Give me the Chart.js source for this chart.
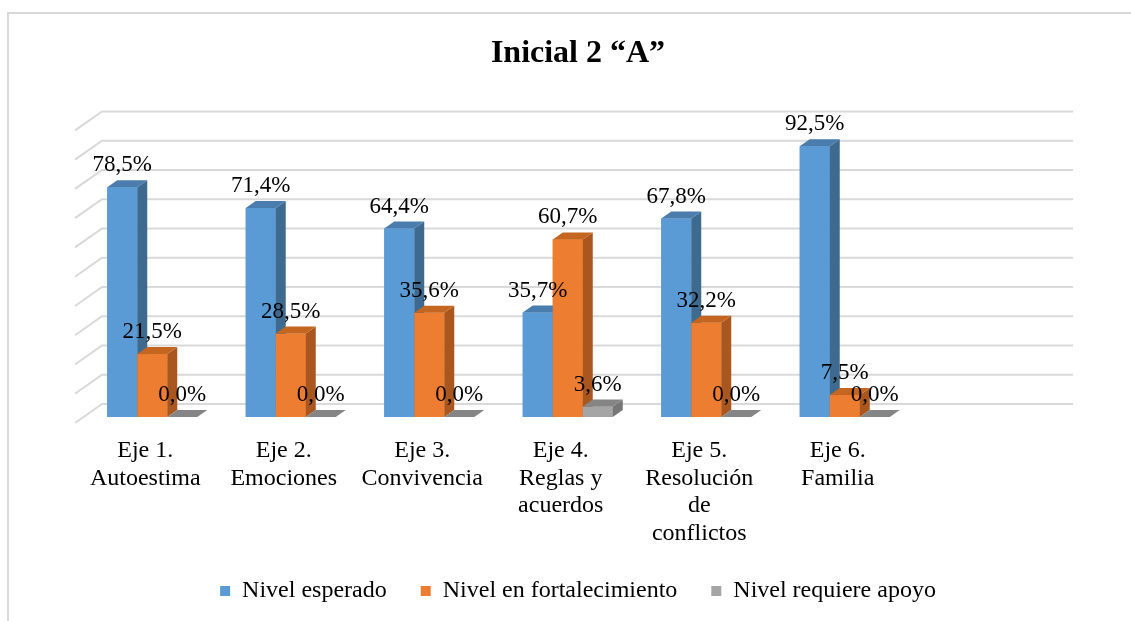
<!DOCTYPE html>
<html>
<head>
<meta charset="utf-8">
<script src="https://cdn.jsdelivr.net/npm/chart.js@4.4.0/dist/chart.umd.min.js"></script>
<style>
  html, body { margin: 0; padding: 0; background: #fff; }
  canvas { display: block; }
</style>
</head>
<body>
<canvas id="chart" width="1131" height="621"></canvas>
<script>
// Data
const categories = [
  ["Eje 1.", "Autoestima"],
  ["Eje 2.", "Emociones"],
  ["Eje 3.", "Convivencia"],
  ["Eje 4.", "Reglas y", "acuerdos"],
  ["Eje 5.", "Resolución", "de", "conflictos"],
  ["Eje 6.", "Familia"]
];
const seriesNames = ["Nivel esperado", "Nivel en fortalecimiento", "Nivel requiere apoyo"];
const esperado = [78.5, 71.4, 64.4, 35.7, 67.8, 92.5];
const fortalecimiento = [21.5, 28.5, 35.6, 60.7, 32.2, 7.5];
const apoyo = [0, 0, 0, 3.6, 0, 0];

const frontColors = ["#5B9BD5", "#ED7D31", "#A5A5A5"];
const sideColors = ["#3E6A90", "#A9561F", "#767676"];
const topColors = ["#4A7DAD", "#C4661F", "#858585"];
const DX = 10, DY = 7;          // bar depth
const WALL_DX = 27, WALL_DY = 19; // floor/wall depth
const FONT = "'Liberation Serif', 'Times New Roman', serif";

const fmt = v => v.toFixed(1).replace(".", ",") + "%";

const frame = {
  id: "frame",
  beforeDraw(chart) {
    const ctx = chart.ctx;
    ctx.save();
    ctx.fillStyle = "#fff";
    ctx.fillRect(0, 0, chart.width, chart.height);
    ctx.strokeStyle = "#d9d9d9";
    ctx.lineWidth = 2;
    ctx.strokeRect(8, 13, 1300, 800);
    ctx.restore();
  }
};

// back wall gridlines with the perspective stubs on the left
const wall = {
  id: "wall",
  beforeDatasetsDraw(chart) {
    const ctx = chart.ctx, area = chart.chartArea, ys = chart.scales.y;
    const backLeft = area.left + 19;
    const backRight = area.right + 159;
    ctx.save();
    ctx.strokeStyle = "#d9d9d9";
    ctx.lineWidth = 2;
    ys.ticks.forEach(t => {
      const yy = ys.getPixelForValue(t.value) - 13;
      ctx.beginPath();
      ctx.moveTo(backLeft - WALL_DX, yy + WALL_DY);
      ctx.lineTo(backLeft, yy);
      ctx.lineTo(backRight, yy);
      ctx.stroke();
    });
    ctx.restore();
  }
};

// redraw each bar as a small box, category by category, then the value labels
const boxes = {
  id: "boxes",
  afterDatasetsDraw(chart) {
    const ctx = chart.ctx;
    const metas = [0, 1, 2].map(d => chart.getDatasetMeta(d));
    ctx.save();
    categories.forEach((c, i) => {
      metas.forEach((meta, d) => {
        const b = meta.data[i].getProps(["x", "y", "base", "width"], true);
        const l = b.x - b.width / 2, r = b.x + b.width / 2;
        if (b.base - b.y > 0) {
          ctx.fillStyle = frontColors[d];
          ctx.fillRect(l, b.y, b.width, b.base - b.y);
        }
        ctx.fillStyle = sideColors[d];
        ctx.beginPath();
        ctx.moveTo(r, b.y);
        ctx.lineTo(r + DX, b.y - DY);
        ctx.lineTo(r + DX, b.base - DY);
        ctx.lineTo(r, b.base);
        ctx.closePath();
        ctx.fill();
        ctx.fillStyle = topColors[d];
        ctx.beginPath();
        ctx.moveTo(l, b.y);
        ctx.lineTo(l + DX, b.y - DY);
        ctx.lineTo(r + DX, b.y - DY);
        ctx.lineTo(r, b.y);
        ctx.closePath();
        ctx.fill();
      });
    });
    ctx.fillStyle = "#000";
    ctx.font = "23px " + FONT;
    ctx.textAlign = "center";
    ctx.textBaseline = "middle";
    metas.forEach((meta, d) => {
      meta.data.forEach((bar, i) => {
        const v = chart.data.datasets[d].data[i];
        ctx.fillText(fmt(v), bar.x, bar.y - 22);
      });
    });
    ctx.restore();
  }
};

new Chart(document.getElementById("chart"), {
  type: "bar",
  data: {
    labels: categories,
    datasets: [
      { label: seriesNames[0], data: esperado, backgroundColor: frontColors[0] },
      { label: seriesNames[1], data: fortalecimiento, backgroundColor: frontColors[1] },
      { label: seriesNames[2], data: apoyo, backgroundColor: frontColors[2] }
    ]
  },
  options: {
    responsive: false,
    animation: false,
    devicePixelRatio: 1,
    layout: { padding: { left: 25, right: 0, top: 0, bottom: 8 } },
    datasets: { bar: { barPercentage: 1, categoryPercentage: 0.65 } },
    scales: {
      x: {
        grid: { display: false, drawTicks: false },
        border: { display: false },
        ticks: {
          color: "#000",
          padding: 20,
          labelOffset: -7,
          maxRotation: 0,
          font: { family: FONT, size: 24, lineHeight: 1.15 }
        },
        afterFit(s) { s.height = 128; }
      },
      y: {
        min: 0, max: 100,
        ticks: { display: false, stepSize: 10 },
        grid: { display: false, drawTicks: false },
        border: { display: false },
        afterFit(s) { s.width = 58; }
      },
      y2: {
        position: "right",
        ticks: { display: false },
        grid: { display: false, drawTicks: false },
        border: { display: false },
        afterFit(s) { s.width = 217; }
      }
    },
    plugins: {
      title: {
        display: true,
        text: "Inicial 2 “A”",
        color: "#000",
        font: { family: FONT, size: 32, weight: "bold", lineHeight: 1.2 },
        padding: { top: 35, bottom: 51 }
      },
      legend: {
        position: "bottom",
        labels: {
          color: "#000",
          boxWidth: 10,
          boxHeight: 10,
          padding: 34,
          font: { family: FONT, size: 24 }
        }
      },
      tooltip: { enabled: false }
    }
  },
  plugins: [frame, wall, boxes]
});
</script>
</body>
</html>
